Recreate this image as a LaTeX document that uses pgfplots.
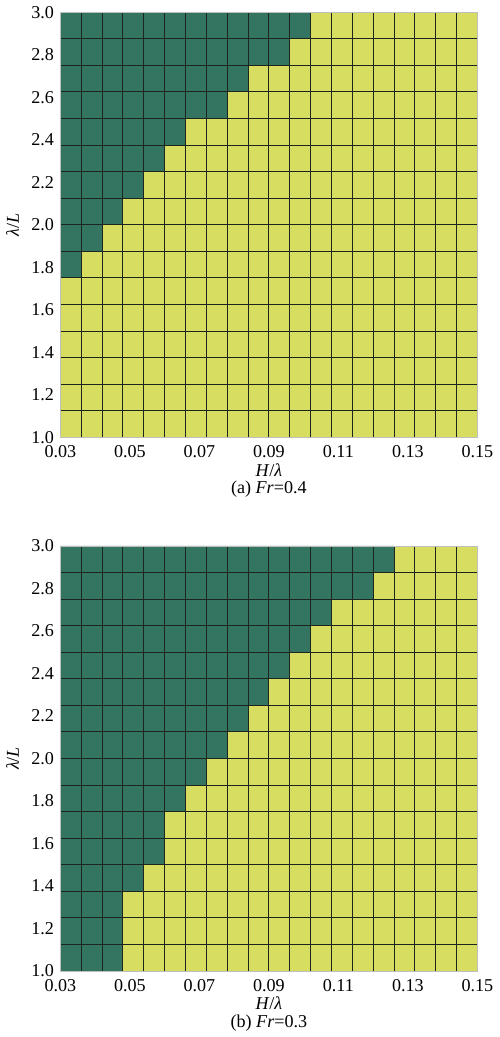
\documentclass[border=0pt]{standalone}
\usepackage{fontspec}
\setmainfont{Liberation Serif}
\usepackage{pgfplots}
\pgfplotsset{compat=1.18}

\definecolor{stable}{HTML}{347561}
\definecolor{unstable}{HTML}{D6DD60}
\definecolor{gridline}{RGB}{28,38,30}

\pgfplotsset{cellgrid/.style={
    scale only axis,
    width=230.5pt, height=235pt,
    xmin=0.03, xmax=0.15, ymin=1, ymax=3,
    clip=false,
    xtick={0.03,0.05,0.07,0.09,0.11,0.13,0.15},
    xticklabels={0.03,0.05,0.07,0.09,0.11,0.13,0.15},
    ytick={1,1.2,1.4,1.6,1.8,2,2.2,2.4,2.6,2.8,3},
    yticklabels={1.0,1.2,1.4,1.6,1.8,2.0,2.2,2.4,2.6,2.8,3.0},
    minor xtick={0.036,0.042,0.048,0.054,0.06,0.066,0.072,0.078,0.084,0.09,
                 0.096,0.102,0.108,0.114,0.12,0.126,0.132,0.138,0.144},
    minor ytick={1.125,1.25,1.375,1.5,1.625,1.75,1.875,2,2.125,2.25,2.375,
                 2.5,2.625,2.75,2.875},
    xminorgrids, yminorgrids,
    minor grid style={gridline, line width=0.5pt},
    major tick length=0pt, minor tick length=0pt,
    axis on top,
    axis line style={black!25},
    tick label style={font=\fontsize{10}{12}\selectfont},
    xticklabel style={yshift=-1pt},
    ylabel={\textit{λ}/\textit{L}},
    ylabel style={font=\fontsize{10}{12}\selectfont},
}}

\begin{document}
\begin{tikzpicture}
% (a) Fr=0.4
\begin{axis}[cellgrid, at={(0pt,0pt)}]
\addplot[fill=unstable, draw=none] coordinates {(0.03,1) (0.15,1) (0.15,3) (0.03,3)} -- cycle;
\addplot[fill=stable, draw=none] coordinates {
    (0.03,3) (0.102,3) (0.102,2.875) (0.096,2.875) (0.096,2.75) (0.084,2.75)
    (0.084,2.625) (0.078,2.625) (0.078,2.5) (0.066,2.5) (0.066,2.375) (0.060,2.375)
    (0.060,2.25) (0.054,2.25) (0.054,2.125) (0.048,2.125) (0.048,2.0) (0.042,2.0)
    (0.042,1.875) (0.036,1.875) (0.036,1.75) (0.03,1.75)} -- cycle;
\node[anchor=base, font=\fontsize{10}{12}\selectfont]
    at (axis description cs:0.5,-0.091) {\textit{H}/\textit{λ}};
\node[anchor=base, font=\fontsize{10}{12}\selectfont]
    at (axis description cs:0.5,-0.132) {(a) \textit{Fr}=0.4};
\end{axis}
% (b) Fr=0.3
\begin{axis}[cellgrid, at={(0pt,-295pt)}]
\addplot[fill=unstable, draw=none] coordinates {(0.03,1) (0.15,1) (0.15,3) (0.03,3)} -- cycle;
\addplot[fill=stable, draw=none] coordinates {
    (0.03,3) (0.126,3) (0.126,2.875) (0.120,2.875) (0.120,2.75) (0.108,2.75)
    (0.108,2.625) (0.102,2.625) (0.102,2.5) (0.096,2.5) (0.096,2.375) (0.090,2.375)
    (0.090,2.25) (0.084,2.25) (0.084,2.125) (0.078,2.125) (0.078,2.0) (0.072,2.0)
    (0.072,1.875) (0.066,1.875) (0.066,1.75) (0.060,1.75) (0.060,1.5) (0.054,1.5)
    (0.054,1.375) (0.048,1.375) (0.048,1.0) (0.03,1.0)} -- cycle;
\node[anchor=base, font=\fontsize{10}{12}\selectfont]
    at (axis description cs:0.5,-0.091) {\textit{H}/\textit{λ}};
\node[anchor=base, font=\fontsize{10}{12}\selectfont]
    at (axis description cs:0.5,-0.132) {(b) \textit{Fr}=0.3};
\end{axis}
\end{tikzpicture}
\end{document}
